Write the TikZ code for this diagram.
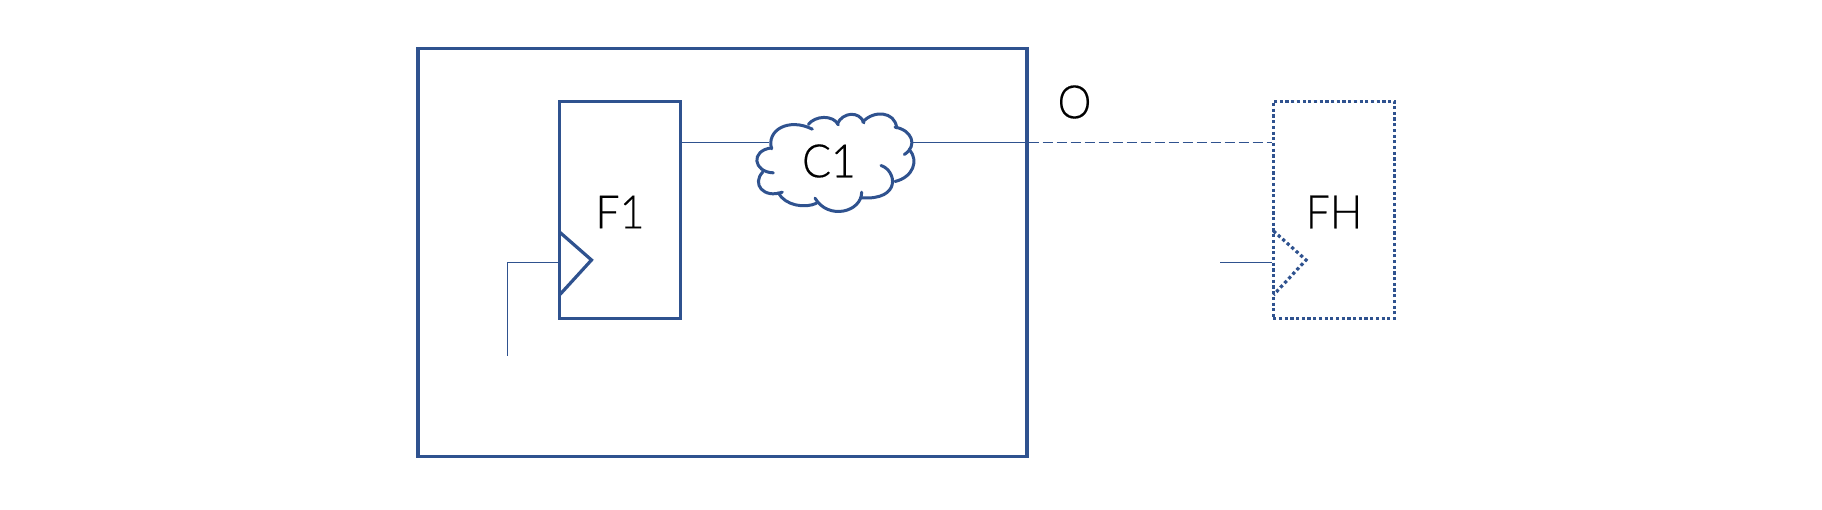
\documentclass[tikz,border=0pt]{standalone}
\usepackage{fontspec}
\setmainfont{Lato Light}[FakeBold=0.35,FakeStretch=0.93]
\definecolor{edge}{HTML}{2F528F}
\tikzset{
  thick box/.style={draw=edge,line width=3.4pt,minimum width=#1,inner sep=0pt,line join=miter},
  ff/.style={draw=edge,line width=3.4pt,minimum width=121.5pt,minimum height=217pt,inner sep=0pt},
  ffdot/.style={ff,dash pattern=on 3.2pt off 2.5pt},
  wire/.style={draw=edge,line width=1.2pt},
  lbl/.style={inner sep=0pt,font=\fontsize{46}{46}\selectfont,text=black},
  lobe/.style={draw=edge,line width=3pt,line cap=round}
}
\begin{document}
\begin{tikzpicture}[x=1pt,y=-1pt]
\useasboundingbox[fill=white] (0,0) rectangle (1822,509);
\node[thick box=609pt,minimum height=408pt] (outer) at (722.5,252.5) {};
\node[ff] (F1) at (620,209.8) {};
\node[ffdot] (FH) at (1334,209.8) {};
\node[lbl] (F1t) at (620,212) {F1};
\node[lbl] (FHt) at (1334,212) {FH};
\node[lbl] (O) at (1074.5,102) {O};
\node[lbl] (C1) at (829,161) {C1};
% clock triangles
\coordinate (t1a) at (559.5,232);
\coordinate (t1b) at (591.5,260);
\coordinate (t1c) at (559.5,295);
\draw[edge,line width=3.2pt,line join=miter] (t1a) -- (t1b) -- (t1c);
\coordinate (t2a) at (1273.5,231);
\coordinate (t2b) at (1306,260);
\coordinate (t2c) at (1273.5,295);
\draw[edge,line width=3.2pt,dash pattern=on 3.2pt off 2.8pt] (t2a) -- (t2b) -- (t2c);
% clock wires
\coordinate (clkfree) at (507.3,355.7);
\coordinate (clkin) at (559,262.3);
\draw[wire] (clkfree) |- (clkin);
\coordinate (clkfree2) at (1220,262.3);
\draw[wire] (clkfree2) -- (clkfree2 -| FH.west);
% cloud
\begin{scope}[shift={(720,90.5)},x=0.3333pt,y=-0.3333pt]
\draw[lobe] (155,175) .. controls (138,120) and (205,80) .. (277,116);
\draw[lobe] (265,102) .. controls (285,75) and (340,72) .. (355,103);
\draw[lobe] (352,100) .. controls (368,65) and (418,60) .. (432,97);
\draw[lobe] (428,95) .. controls (460,58) and (525,62) .. (530,112);
\draw[lobe] (525,110) .. controls (575,118) and (595,165) .. (553,192);
\draw[lobe] (568,177) .. controls (597,210) and (580,260) .. (525,273);
\draw[lobe] (483,225) .. controls (530,240) and (545,330) .. (425,322);
\draw[lobe] (425,305) .. controls (425,365) and (325,390) .. (285,323);
\draw[lobe] (290,338) .. controls (255,355) and (195,345) .. (175,307);
\draw[lobe] (187,305) .. controls (130,325) and (95,280) .. (128,245);
\draw[lobe] (160,247) .. controls (100,245) and (90,180) .. (155,172);
\coordinate (cloudL) at (148,155.5);
\coordinate (cloudR) at (578,155.5);
\end{scope}
% output wires
\draw[wire] (F1.east |- cloudL) -- (cloudL);
\draw[wire] (cloudR) -- (outer.east |- cloudR);
\draw[wire,dash pattern=on 10pt off 4pt] (outer.east |- cloudR) -- (FH.west |- cloudR);
\end{tikzpicture}
\end{document}
